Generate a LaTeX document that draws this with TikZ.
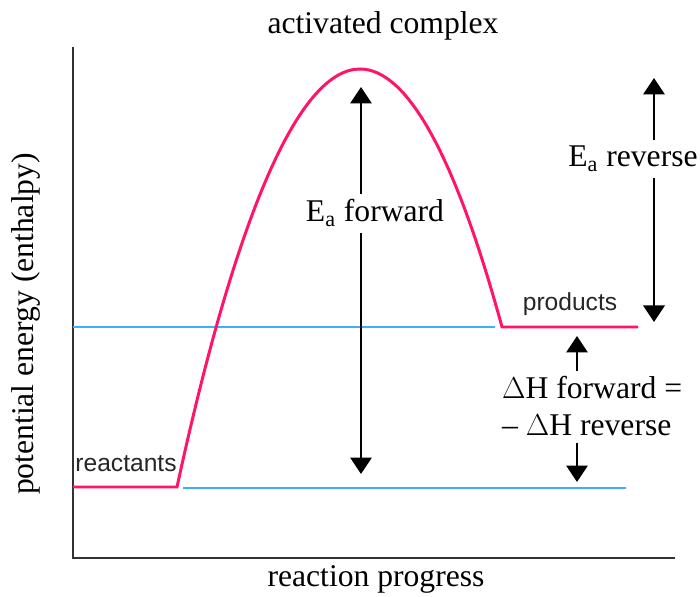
\documentclass[tikz,border=0pt]{standalone}
\usepackage{fontspec}
\setmainfont{Liberation Serif}
\setsansfont{Liberation Sans}
\usetikzlibrary{arrows.meta}
\definecolor{curvered}{RGB}{255,20,105}
\definecolor{levelblue}{RGB}{60,175,255}
\definecolor{axisgray}{RGB}{50,50,50}
\tikzset{
  axisline/.style={draw=axisgray, line width=1.1pt},
  levelline/.style={draw=levelblue, line width=1.1pt},
  energyline/.style={draw=curvered, line width=1.7pt, line join=miter},
  bigtext/.style={font=\fontsize{18}{21}\selectfont},
  smalltext/.style={font=\sffamily\fontsize{14}{16}\selectfont, text=black!85},
  earrow/.style={line width=0.9pt, -{Triangle[length=0.33cm,width=0.43cm]}}
}

\begin{document}
\begin{tikzpicture}[x=0.02cm,y=-0.02cm]
\useasboundingbox (0,0) rectangle (700,597);
    % axes and labels
    \draw[axisline] (73,47) -- (73,558) -- (675,558);
    \node[bigtext, anchor=base] (topname) at (383,34) {activated complex};
    \node[bigtext, anchor=base] (xname) at (376,587) {reaction progress};
    \node[bigtext, anchor=base, rotate=90] (yname) at (33,324) {potential energy (enthalpy)};
    %
    \draw[levelline] (73,327) -- (495,327);
    \draw[levelline] (183,488) -- (626,488);
    %
    \coordinate (reactstart) at (73,487);
    \coordinate (reactend) at (177,487);
    \coordinate (peak) at (360,69);
    \coordinate (prodstart) at (502,327);
    \coordinate (prodend) at (638,327);
    \draw[energyline] (reactstart) -- (reactend)
        .. controls (236,215) and (299,69) .. (peak)
        .. controls (407,69) and (455,155) .. (prodstart) -- (prodend);
    \node[smalltext, anchor=base] (react) at (126,472) {reactants};
    \node[smalltext, anchor=base] (prod) at (570,311) {products};
%%%%%%%%%%%%%%%%%%%%%%%%%%%%%%%%%%%%%
    % forward barrier
    \node[bigtext, anchor=base] (eafwd) at (375,222) {E\textsubscript{a} forward};
    \coordinate (eafwdtop) at (361,87);
    \coordinate (eafwdbot) at (361,474);
    \draw[earrow] (eafwdtop |- eafwd.north) -- (eafwdtop);
    \draw[earrow] (eafwdbot |- eafwd.south) -- (eafwdbot);
    % reverse barrier
    \node[bigtext, anchor=base] (earev) at (633,167) {E\textsubscript{a} reverse};
    \coordinate (earevtop) at (654,78);
    \coordinate (earevbot) at (654,322);
    \draw[earrow] (earevtop |- earev.north) -- (earevtop);
    \draw[earrow] (earevbot |- earev.south) -- (earevbot);
    % enthalpy change
    \node[bigtext, anchor=base west] (dhfwd) at (496,399) {$\Delta$H forward =};
    \node[bigtext, anchor=base west] (dhrev) at (496,436) {– $\Delta$H reverse};
    \coordinate (dhtop) at (577,336);
    \coordinate (dhbot) at (577,482);
    \draw[earrow] (dhtop |- dhfwd.north) -- (dhtop);
    \draw[earrow] (dhbot |- dhrev.south) -- (dhbot);
\end{tikzpicture}
\end{document}
